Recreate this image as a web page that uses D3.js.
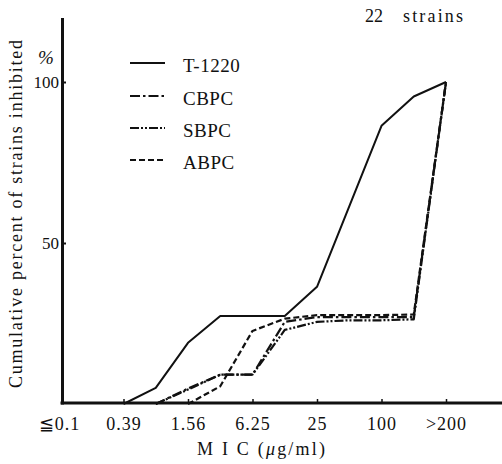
<!DOCTYPE html>
<html>
<head>
<meta charset="utf-8">
<script src="https://cdn.jsdelivr.net/npm/d3@7"></script>
<style>
  html, body { margin: 0; padding: 0; background: #fff; }
  svg text { font-family: "Liberation Serif", "DejaVu Serif", serif; fill: #111; }
</style>
</head>
<body>
<div id="wrapper"></div>
<script>
// dilution steps on the x axis, one per position
const categories = ["≦0.1", "0.2", "0.39", "0.78", "1.56", "3.13", "6.25", "12.5", "25", "50", "100", "200", ">200"];
const tickLabels = ["≦0.1", "0.39", "1.56", "6.25", "25", "100", ">200"];
const yTicks = [50, 100];
const seriesNames = ["T-1220", "CBPC", "SBPC", "ABPC"];

// cumulative percent inhibited (22 strains), null = not drawn
const t1220Values = [null, null, 0, 5, 19, 27.3, 27.3, 27.3, 36.4, 61.4, 86.4, 95.5, 100];
const cbpcValues = [null, null, null, 0, 4.8, 9.1, 9.1, 25.5, 27, 27, 27, 27, 100];
const sbpcValues = [null, null, null, 0, 4.5, 9.1, 9.1, 23, 25.5, 26, 26, 26.3, 100];
const abpcValues = [null, null, null, null, 0, 5.5, 22.7, 26.5, 27.6, 27.6, 27.6, 27.8, 100];

function drawChart() {
  const dimensions = {
    width: 502,
    height: 464,
    axisX: 62,
    axisY: 404,
  };

  const seriesValues = [t1220Values, cbpcValues, sbpcValues, abpcValues];
  const dashes = [null, "10,3,2.5,3", "9,2,2,2,2,2", "6,3"];

  const svg = d3
    .select("#wrapper")
    .append("svg")
    .attr("width", dimensions.width)
    .attr("height", dimensions.height);

  //* scales
  const xScale = d3.scalePoint().domain(categories).range([59, 446]);
  const yScale = d3.scaleLinear().domain([0, 120]).range([dimensions.axisY, 17.6]);

  //* lines
  const lineGenerator = d3
    .line()
    .defined((d) => d.v != null)
    .x((d) => xScale(d.c))
    .y((d) => yScale(d.v));

  seriesValues.forEach((values, i) => {
    const points = values.map((v, j) => ({ c: categories[j], v }));
    svg
      .append("path")
      .datum(points)
      .attr("fill", "none")
      .attr("stroke", "#111")
      .attr("stroke-width", i === 0 ? 2 : 2.2)
      .attr("stroke-linejoin", "round")
      .attr("stroke-dasharray", dashes[i])
      .attr("d", lineGenerator);
  });

  //* axes
  const yAxis = svg
    .append("g")
    .attr("transform", `translate(${dimensions.axisX},0)`)
    .call(
      d3.axisLeft(yScale).tickValues(yTicks).tickSize(-4).tickSizeOuter(0).tickPadding(3)
    );
  yAxis.attr("font-family", null);
  yAxis.select(".domain").attr("stroke", "#111").attr("stroke-width", 3);
  yAxis.selectAll(".tick line").attr("stroke", "#111").attr("stroke-width", 2);
  yAxis.selectAll(".tick text").style("font-size", "17px");

  const xAxis = svg
    .append("g")
    .attr("transform", `translate(0,${dimensions.axisY - 1})`)
    .call(d3.axisBottom(xScale).tickValues(tickLabels).tickSize(-4).tickPadding(27));
  xAxis.attr("font-family", null);
  xAxis.select(".domain").remove();
  xAxis.selectAll(".tick line").attr("stroke", "#111").attr("stroke-width", 1.5);
  xAxis.selectAll(".tick").filter((d) => d === categories[0]).select("line").remove();
  xAxis
    .selectAll(".tick text")
    .attr("dy", "0")
    .style("font-size", "18px")
    .style("letter-spacing", "1px");

  svg
    .append("line")
    .attr("x1", dimensions.axisX - 1.5)
    .attr("x2", dimensions.width)
    .attr("y1", dimensions.axisY - 1)
    .attr("y2", dimensions.axisY - 1)
    .attr("stroke", "#111")
    .attr("stroke-width", 3);

  //* labels
  svg
    .append("text")
    .attr("x", 46)
    .attr("y", 64)
    .attr("text-anchor", "middle")
    .style("font-size", "19px")
    .style("font-style", "italic")
    .text("%");

  svg
    .append("text")
    .attr("transform", "translate(22,214) rotate(-90)")
    .attr("text-anchor", "middle")
    .attr("textLength", 348)
    .attr("lengthAdjust", "spacing")
    .style("font-size", "18px")
    .text("Cumulative percent of strains inhibited");

  svg
    .append("text")
    .attr("x", 365)
    .attr("y", 22)
    .style("font-size", "18px")
    .text("22");
  svg
    .append("text")
    .attr("x", 403)
    .attr("y", 22)
    .attr("textLength", 60)
    .attr("lengthAdjust", "spacing")
    .style("font-size", "18px")
    .text("strains");

  const xTitle = svg
    .append("text")
    .attr("x", 197)
    .attr("y", 455)
    .attr("textLength", 128)
    .attr("lengthAdjust", "spacing")
    .style("font-size", "18px");
  xTitle.append("tspan").text("M I C  (");
  xTitle.append("tspan").style("font-style", "italic").text("μ");
  xTitle.append("tspan").text("g/ml)");

  //* legend
  const legendY = [63, 96, 128, 160];
  const legend = svg
    .selectAll(".legend")
    .data(seriesNames)
    .join("g")
    .attr("class", "legend")
    .attr("transform", (d, i) => `translate(130,${legendY[i]})`);
  legend
    .append("line")
    .attr("x1", 0)
    .attr("x2", 35)
    .attr("stroke", "#111")
    .attr("stroke-width", 2)
    .attr("stroke-dasharray", (d, i) => dashes[i]);
  legend
    .append("text")
    .attr("x", 53)
    .attr("y", 9)
    .style("font-size", "19px")
    .style("letter-spacing", "0.5px")
    .text((d) => d);
}

drawChart();
</script>
</body>
</html>
